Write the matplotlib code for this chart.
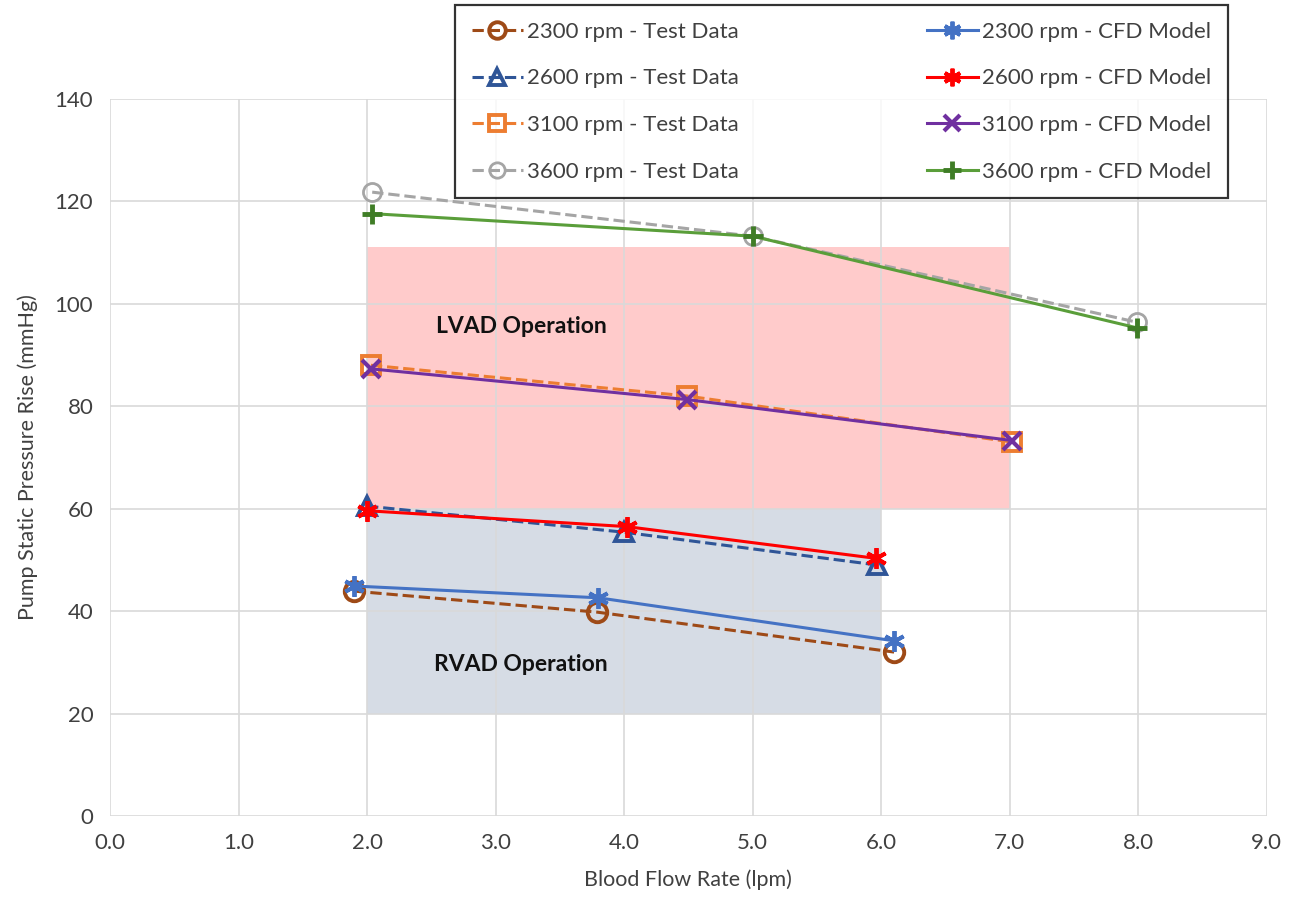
import matplotlib
matplotlib.use("Agg")
import matplotlib.pyplot as plt

plt.rcParams['font.family'] = ['Lato', 'DejaVu Sans']

# ---- data ----
x_2300_test = [1.90, 3.79, 6.10]
y_2300_test = [43.9, 39.8, 32.0]
x_2300_cfd = [1.90, 3.80, 6.10]
y_2300_cfd = [44.9, 42.6, 34.2]

x_2600_test = [2.00, 4.00, 5.97]
y_2600_test = [60.5, 55.4, 49.0]
x_2600_cfd = [2.00, 4.02, 5.96]
y_2600_cfd = [59.6, 56.5, 50.3]

x_3100_test = [2.03, 4.49, 7.02]
y_3100_test = [88.0, 82.0, 73.0]
x_3100_cfd = [2.03, 4.49, 7.02]
y_3100_cfd = [87.3, 81.3, 73.3]

x_3600_test = [2.04, 5.00, 7.99]
y_3600_test = [121.8, 113.2, 96.4]
x_3600_cfd = [2.04, 5.00, 7.99]
y_3600_cfd = [117.6, 113.2, 95.3]

lvad_x = [2.0, 7.0]
lvad_y = [60, 111]
rvad_x = [2.0, 6.0]
rvad_y = [20, 60]

xticks = [0, 1, 2, 3, 4, 5, 6, 7, 8, 9]
yticks = [0, 20, 40, 60, 80, 100, 120, 140]

fig = plt.figure(figsize=(12.94, 9.10), dpi=100)
ax = fig.add_axes([0.085, 0.1033, 0.894, 0.788])

ax.fill_between(lvad_x, lvad_y[0], lvad_y[1], color='#FFCBCB', zorder=0.2, linewidth=0)
ax.fill_between(rvad_x, rvad_y[0], rvad_y[1], color='#D6DCE5', zorder=0.2, linewidth=0)

ax.text(3.2, 95.5, 'LVAD Operation', fontsize=16.5, fontweight='bold', ha='center', va='center', color='#111111')
ax.text(3.2, 29.5, 'RVAD Operation', fontsize=16.5, fontweight='bold', ha='center', va='center', color='#111111')

lw = 2.2
mew = 2.8
h = []
h += ax.plot(x_2300_test, y_2300_test, ls='--', color='#9E4A17', lw=lw, marker='o', ms=14,
             mfc='none', mew=mew, label='2300 rpm - Test Data', zorder=3)
h += ax.plot(x_2600_test, y_2600_test, ls='--', color='#2F5597', lw=lw, marker='^', ms=13,
             mfc='none', mew=mew, label='2600 rpm - Test Data', zorder=3)
h += ax.plot(x_3100_test, y_3100_test, ls='--', color='#ED7D31', lw=lw, marker='s', ms=13,
             mfc='none', mew=mew, label='3100 rpm - Test Data', zorder=3)
h += ax.plot(x_3600_test, y_3600_test, ls='--', color='#A5A5A5', lw=lw, marker='o', ms=13,
             mfc='none', mew=2.0, label='3600 rpm - Test Data', zorder=3)
h += ax.plot(x_2300_cfd, y_2300_cfd, ls='-', color='#4472C4', lw=lw, marker=(6, 2, 0), ms=15,
             mew=mew, label='2300 rpm - CFD Model', zorder=4)
h += ax.plot(x_2600_cfd, y_2600_cfd, ls='-', color='#FF0000', lw=lw, marker=(6, 2, 0), ms=15,
             mew=mew, label='2600 rpm - CFD Model', zorder=4)
h += ax.plot(x_3100_cfd, y_3100_cfd, ls='-', color='#7030A0', lw=lw, marker='x', ms=13,
             mew=3.0, label='3100 rpm - CFD Model', zorder=4)
h += ax.plot(x_3600_cfd, y_3600_cfd, ls='-', color='#5A9E3A', lw=lw, marker='+', ms=15,
             mew=3.5, mec='#3F7D26', label='3600 rpm - CFD Model', zorder=4)

ax.set_xlim(0, 9)
ax.set_ylim(0, 140)
ax.set_xticks(xticks)
ax.set_xticklabels([f'{v:.1f}' for v in xticks])
ax.set_yticks(yticks)
ax.grid(True, color='#D9D9D9', lw=1.2)
ax.set_axisbelow(True)
for s in ax.spines.values():
    s.set_visible(False)
ax.tick_params(length=0, labelsize=16, labelcolor='#404040', pad=12)
ax.set_xlabel('Blood Flow Rate (lpm)', fontsize=15.5, color='#404040', labelpad=12)
ax.set_ylabel('Pump Static Pressure Rise (mmHg)', fontsize=15.5, color='#404040', labelpad=12)

leg = fig.legend(handles=h, ncol=2, loc='upper left',
                 bbox_to_anchor=(0.3516, 0.789, 0.5974, 0.2055), mode='expand',
                 borderaxespad=0.0,
                 fontsize=16, frameon=True, fancybox=False, handlelength=2.3,
                 labelspacing=1.2, borderpad=0.75, columnspacing=2.0, handletextpad=0.2,
                 markerscale=0.85)
leg.get_frame().set_edgecolor('black')
leg.get_frame().set_linewidth(1.6)
for t in leg.get_texts():
    t.set_color('#404040')

fig.savefig('out.png', dpi=100)
